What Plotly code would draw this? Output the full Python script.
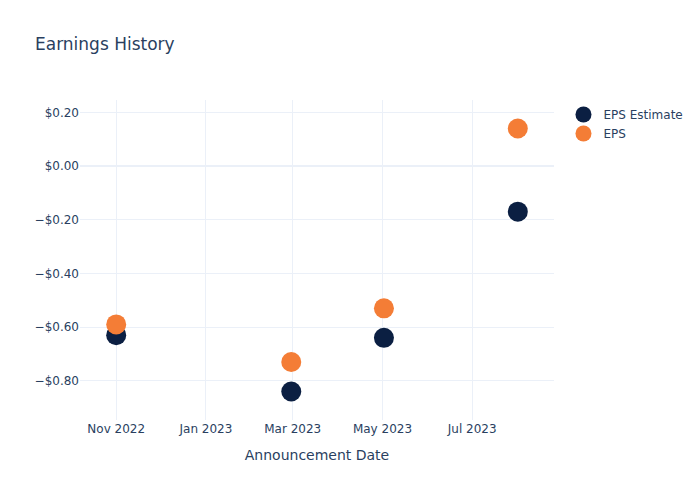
import plotly.graph_objects as go

dates = ["2022-11-01", "2023-02-28", "2023-05-02", "2023-08-01"]
eps_estimate = [-0.63, -0.84, -0.64, -0.17]
eps_actual = [-0.59, -0.73, -0.53, 0.14]

W, H = 692, 492
fig = go.Figure()
fig.add_trace(go.Scatter(x=dates, y=eps_estimate, mode="markers", name="EPS Estimate",
                         marker=dict(color="#0B1F42", size=20)))
fig.add_trace(go.Scatter(x=dates, y=eps_actual, mode="markers", name="EPS",
                         marker=dict(color="#F47D36", size=20)))
fig.update_layout(
    template="plotly_white",
    font=dict(family="DejaVu Sans"),
    title=dict(text="Earnings History", x=27 / W, xanchor="left",
               y=1 - 36 / H, yanchor="middle", yref="container"),
    width=W, height=H,
    margin=dict(l=72, t=92, b=80, r=139),
    xaxis_title="Announcement Date",
    yaxis=dict(tickformat="$.2f"),
)
fig.write_html("out.html")
